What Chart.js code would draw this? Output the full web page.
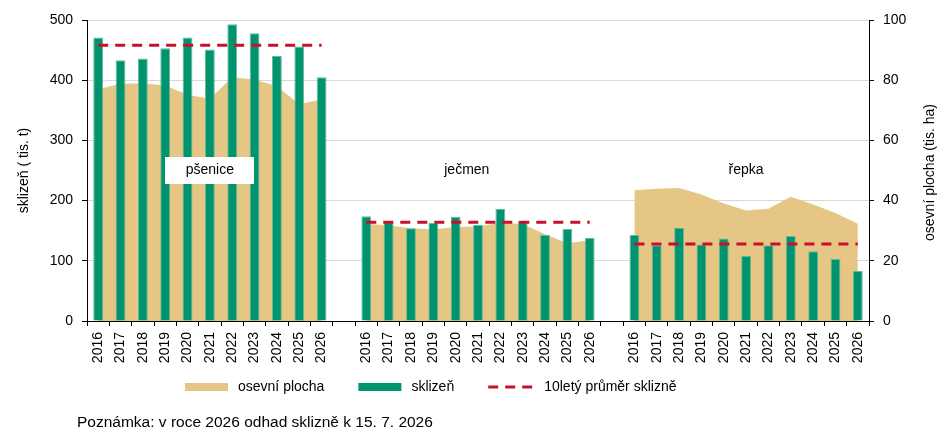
<!DOCTYPE html>
<html>
<head>
<meta charset="utf-8">
<script src="https://cdn.jsdelivr.net/npm/chart.js@4.4.1/dist/chart.umd.min.js"></script>
<style>
  html, body { margin: 0; padding: 0; background: #fff; }
  #wrap { width: 945px; height: 439px; position: relative; }
</style>
</head>
<body>
<div id="wrap"><canvas id="c"></canvas></div>
<script>
// ---- data ----
const years = ['2016','2017','2018','2019','2020','2021','2022','2023','2024','2025','2026'];
const cropNames = ['pšenice', 'ječmen', 'řepka'];

// sklizeň (tis. t) - left axis
const wheatHarvest  = [471, 433, 436, 453, 471, 451, 493, 478, 440, 456, 405];
const barleyHarvest = [174, 164, 154, 163, 173, 160, 186, 166, 143, 153, 138];
const rapeHarvest   = [143, 126, 155, 127, 137, 108, 126, 141, 116, 103, 83];

// osevní plocha (tis. ha) - right axis
const wheatArea  = [77.0, 78.8, 79.0, 78.2, 75.2, 73.8, 81.0, 80.2, 78.0, 72.0, 73.6];
const barleyArea = [32.2, 31.8, 30.8, 30.4, 31.2, 31.4, 32.6, 32.2, 28.8, 25.8, 26.8];
const rapeArea   = [43.4, 43.9, 44.2, 42.0, 39.0, 36.7, 37.3, 41.3, 38.7, 35.9, 32.3];

// 10letý průměr sklizně (tis. t)
const wheatAvg  = 458;
const barleyAvg = 164;
const rapeAvg   = 128;

// axis ticks
const leftTicks  = [0, 100, 200, 300, 400, 500];
const rightTicks = [0, 20, 40, 60, 80, 100];

// ---- build library tables ----
const labels = [...years, '', ...years, '', ...years];
const harvestData = [...wheatHarvest, null, ...barleyHarvest, null, ...rapeHarvest];
const areaData = [...wheatArea, null, ...barleyArea, null, ...rapeArea];
const avgData = [...years.map(() => wheatAvg), null, ...years.map(() => barleyAvg), null, ...years.map(() => rapeAvg)];

const FONT = 'Liberation Sans, Arial, sans-serif';
const COL_AREA = '#E5C685';
const COL_BAR = '#00936E';
const COL_BAR_EDGE = '#5EBE9C';
const COL_AVG = '#C8102E';

const customDraw = {
  id: 'customDraw',
  afterDatasetsDraw(chart) {
    const ctx = chart.ctx;
    const x = chart.scales.x, y = chart.scales.y;
    ctx.save();
    ctx.font = '14px ' + FONT;
    ctx.textAlign = 'center';
    ctx.textBaseline = 'middle';
    // group labels
    const groupPos = [5, 16.5, 29];
    cropNames.forEach((name, i) => {
      const cx = x.getPixelForValue(groupPos[i]);
      const cy = y.getPixelForValue(250);
      if (i === 0) {
        const w = ctx.measureText(name).width + 41;
        ctx.fillStyle = '#fff';
        ctx.fillRect(Math.round(cx - w / 2), Math.round(cy - 14), Math.round(w), 27);
      }
      ctx.fillStyle = '#000';
      ctx.fillText(name, cx, cy);
    });
    ctx.restore();
  },
  afterDraw(chart) {
    const ctx = chart.ctx;
    const area = chart.chartArea;
    ctx.save();
    ctx.font = '14px ' + FONT;
    ctx.fillStyle = '#000';
    ctx.textBaseline = 'middle';
    // right axis title (rotated, reading bottom-to-top)
    ctx.save();
    ctx.translate(930, (area.top + area.bottom) / 2 + 2);
    ctx.rotate(-Math.PI / 2);
    ctx.textAlign = 'center';
    ctx.fillText('osevní plocha (tis. ha)', 0, 0);
    ctx.restore();

    // legend
    const ly = 387;
    let lx = 185;
    const items = [
      { kind: 'box', color: COL_AREA, text: 'osevní plocha' },
      { kind: 'box', color: COL_BAR, text: 'sklizeň' },
      { kind: 'dash', color: COL_AVG, text: '10letý průměr sklizně' }
    ];
    ctx.textAlign = 'left';
    items.forEach(it => {
      let sw;
      if (it.kind === 'box') {
        sw = 43;
        ctx.fillStyle = it.color;
        ctx.fillRect(lx, ly - 4, sw, 8);
      } else {
        sw = 46;
        ctx.strokeStyle = it.color;
        ctx.lineWidth = 3;
        ctx.setLineDash([10, 7]);
        ctx.beginPath();
        ctx.moveTo(lx, ly);
        ctx.lineTo(lx + sw, ly);
        ctx.stroke();
        ctx.setLineDash([]);
      }
      ctx.fillStyle = '#000';
      const tx = lx + sw + 10;
      ctx.fillText(it.text, tx, ly);
      lx = tx + ctx.measureText(it.text).width + 34;
    });

    // note
    ctx.font = '15.5px ' + FONT;
    ctx.fillText('Poznámka: v roce 2026 odhad sklizně k 15. 7. 2026', 77, 423);
    ctx.restore();
  }
};

const tickFont = { size: 14, family: FONT };

new Chart(document.getElementById('c'), {
  type: 'bar',
  data: {
    labels: labels,
    datasets: [
      {
        type: 'line',
        label: 'osevní plocha',
        data: areaData,
        yAxisID: 'y2',
        backgroundColor: COL_AREA,
        borderColor: COL_AREA,
        borderWidth: 0,
        pointRadius: 0,
        fill: 'origin',
        tension: 0,
        spanGaps: false,
        order: 3
      },
      {
        type: 'bar',
        label: 'sklizeň',
        data: harvestData,
        yAxisID: 'y',
        backgroundColor: COL_BAR,
        borderColor: COL_BAR_EDGE,
        borderWidth: 1,
        barPercentage: 0.44,
        categoryPercentage: 1,
        order: 2
      },
      {
        type: 'line',
        label: '10letý průměr sklizně',
        data: avgData,
        yAxisID: 'y',
        borderColor: COL_AVG,
        borderWidth: 3,
        borderDash: [10, 7],
        pointRadius: 0,
        fill: false,
        spanGaps: false,
        order: 1
      }
    ]
  },
  options: {
    responsive: true,
    maintainAspectRatio: false,
    animation: false,
    devicePixelRatio: 1,
    layout: { padding: { top: 20, bottom: 70, left: 0, right: 0 } },
    plugins: {
      legend: { display: false },
      tooltip: { enabled: false }
    },
    scales: {
      x: {
        type: 'category',
        offset: true,
        grid: { offset: true, drawOnChartArea: false, drawTicks: true, tickLength: 5, tickColor: '#000' },
        border: { color: '#000', width: 1 },
        ticks: { autoSkip: false, minRotation: 90, maxRotation: 90, padding: 6, color: '#000', font: tickFont },
        afterFit(s) { s.height = 48; }
      },
      y: {
        position: 'left',
        min: 0, max: 500,
        afterBuildTicks(s) { s.ticks = leftTicks.map(v => ({ value: v })); },
        ticks: { padding: 9, color: '#000', font: tickFont },
        grid: { color: '#D9D9D9', tickColor: '#000', tickLength: 5, lineWidth: 1 },
        border: { color: '#000', width: 1 },
        title: { display: true, text: 'sklizeň ( tis. t)', color: '#000', font: tickFont, padding: { top: 16, bottom: 0 } },
        afterFit(s) { s.width = 87; }
      },
      y2: {
        position: 'right',
        min: 0, max: 100,
        afterBuildTicks(s) { s.ticks = rightTicks.map(v => ({ value: v })); },
        ticks: { padding: 9, color: '#000', font: tickFont },
        grid: { drawOnChartArea: false, tickColor: '#000', tickLength: 5 },
        border: { color: '#000', width: 1 },
        afterFit(s) { s.width = 76; }
      }
    }
  },
  plugins: [customDraw]
});
</script>
</body>
</html>
